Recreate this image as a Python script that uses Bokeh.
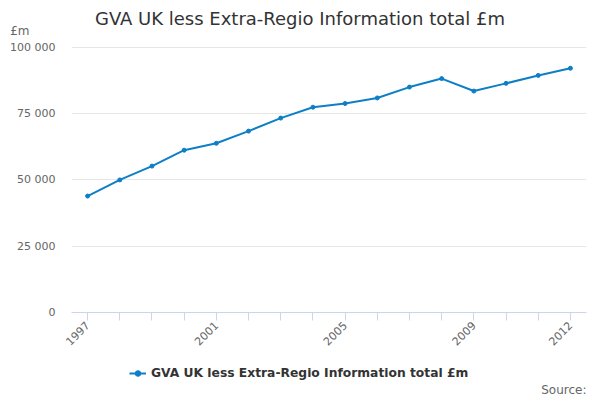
from bokeh.plotting import figure
from bokeh.models import FixedTicker, Range1d, Legend, LegendItem, Label
from bokeh.layouts import column
from bokeh.embed import file_html
from bokeh.resources import INLINE
import math

years = list(range(1997, 2013))
values = [43900, 50000, 55200, 61200, 63800, 68400, 73300, 77400,
          78800, 80900, 85000, 88200, 83500, 86400, 89400, 92100]
x_label_years = [1997, 2001, 2005, 2009, 2012]
y_ticks = [0, 25000, 50000, 75000, 100000]
y_tick_labels = ["0", "25 000", "50 000", "75 000", "100 000"]
series_name = "GVA UK less Extra-Regio Information total £m"
title_text = "GVA UK less Extra-Regio Information total £m"
unit_text = "£m"
source_text = "Source:"

FONT = "DejaVu Sans"
LINE = "#0d7fc6"
FL, FR = 71, 586  # frame edges in page pixels (shared by all rows)


def blank(height):
    f = figure(frame_width=FR - FL, frame_height=height, output_backend="svg",
               toolbar_location=None,
               x_range=Range1d(FL, FR), y_range=Range1d(0, height),
               x_axis_location=None, y_axis_location=None,
               min_border_left=FL, min_border_right=600 - FR,
               min_border_top=0, min_border_bottom=0)
    f.title = None
    f.outline_line_color = None
    f.xgrid.visible = False
    f.ygrid.visible = False
    return f


# header: title; unit shown as a left-axis label
h = figure(frame_width=FR - FL, frame_height=38, output_backend="svg", toolbar_location=None,
           x_range=Range1d(FL, FR), y_range=Range1d(0, 38),
           x_axis_location=None, y_axis_location="left",
           min_border_left=FL, min_border_right=600 - FR, min_border_top=0, min_border_bottom=0)
h.title = None
h.outline_line_color = None
h.xgrid.visible = False
h.ygrid.visible = False
hy = h.yaxis[0]
hy.ticker = FixedTicker(ticks=[6])
hy.major_label_overrides = {6: unit_text}
hy.axis_line_color = None
hy.major_tick_line_color = None
hy.minor_tick_line_color = None
hy.major_label_text_font = FONT
hy.major_label_text_font_size = "12px"
hy.major_label_text_color = "#666666"
hy.major_label_standoff = 36
h.add_layout(Label(x=299.5, y=20, text=title_text, text_font=FONT, text_font_size="18px",
                   text_color="#333333", text_align="center", text_baseline="middle"))

# main chart
p = figure(frame_width=FR - FL, frame_height=266, output_backend="svg", toolbar_location=None,
           x_range=Range1d(1996.5, 2012.5), y_range=Range1d(0, 100300),
           min_border_left=FL, min_border_right=600 - FR, min_border_top=8, min_border_bottom=46)
p.title = None
p.outline_line_color = None

p.line(years, values, line_color=LINE, line_width=2)
p.scatter(years, values, size=4, color=LINE)

p.xgrid.visible = False
p.ygrid.grid_line_color = "#e6e6e6"
p.ygrid.ticker = FixedTicker(ticks=y_ticks)

xa = p.xaxis[0]
xa.ticker = FixedTicker(ticks=years)
xa.major_label_overrides = {y: (str(y) if y in x_label_years else "") for y in years}
xa.major_label_orientation = math.pi / 4
xa.axis_line_color = "#ccd6eb"
xa.major_tick_line_color = "#ccd6eb"
xa.major_tick_out = 8
xa.major_tick_in = 0
xa.minor_tick_line_color = None
xa.major_label_text_font = FONT
xa.major_label_text_font_size = "11px"
xa.major_label_text_color = "#666666"
xa.major_label_standoff = 3

ya = p.yaxis[0]
ya.ticker = FixedTicker(ticks=y_ticks)
ya.major_label_overrides = {t: l for t, l in zip(y_ticks, y_tick_labels)}
ya.axis_line_color = None
ya.major_tick_line_color = None
ya.minor_tick_line_color = None
ya.major_label_text_font = FONT
ya.major_label_text_font_size = "11px"
ya.major_label_text_color = "#666666"
ya.major_label_standoff = 10

# footer: legend and source (legend keys use the series data, which lies outside this strip)
q = blank(42)
lg_line = q.line(years, values, line_color=LINE, line_width=2)
lg_pts = q.scatter(years, values, size=4, color=LINE)
legend = Legend(items=[LegendItem(label=series_name, renderers=[lg_line, lg_pts])],
                orientation="horizontal", location=(58, 20),
                label_text_font=FONT, label_text_font_size="12.3px",
                label_text_font_style="bold", label_text_color="#333333",
                border_line_color=None, background_fill_alpha=0,
                glyph_width=17, glyph_height=14, label_height=14,
                label_standoff=5, padding=2, margin=0)
q.add_layout(legend)
q.add_layout(Label(x=586, y=11, text=source_text, text_font=FONT, text_font_size="12px",
                   text_color="#666666", text_align="right", text_baseline="middle"))

open("out.html", "w").write(file_html(column(h, p, q), INLINE))
